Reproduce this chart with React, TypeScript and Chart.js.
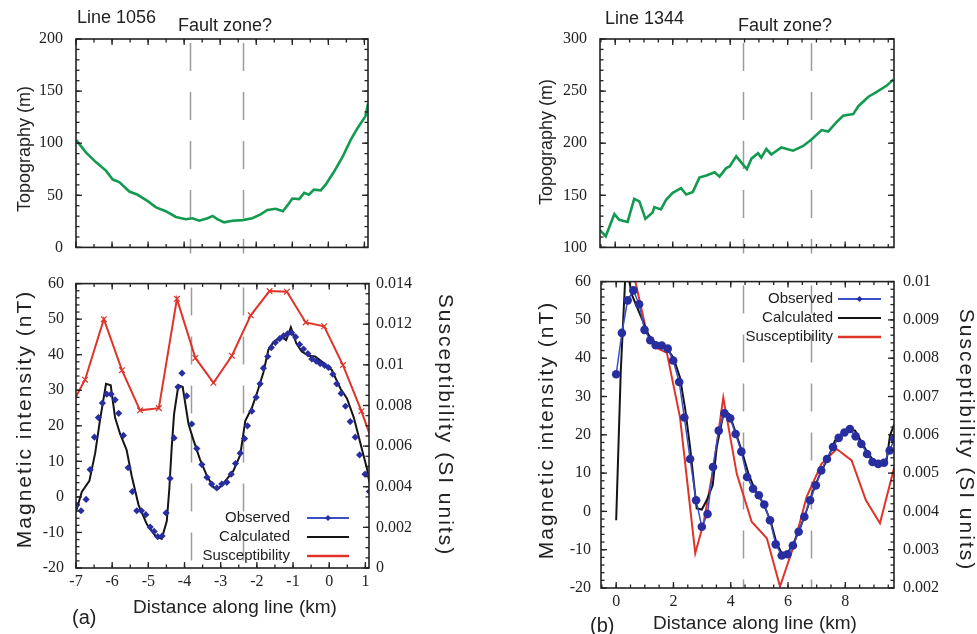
import React, { useEffect, useRef } from "react";
import { Chart, registerables } from "chart.js";

Chart.register(...registerables);

// ---------------- DATA ----------------
// Line 1056 (panel a)
const topoDistA = [-7, -6.72, -6.45, -6.17, -5.98, -5.8, -5.52, -5.29, -5.01, -4.78, -4.51, -4.23, -3.95, -3.77, -3.58, -3.35, -3.21, -3.08, -2.89, -2.66, -2.38, -2.11, -1.88, -1.69, -1.46, -1.26, -1.09, -1.0, -0.81, -0.67, -0.54, -0.4, -0.21, -0.07, 0.16, 0.39, 0.62, 0.8, 1.03, 1.1];
const topoElevA = [103.2, 91, 81.9, 73.7, 65.1, 62.7, 53.6, 50.5, 44.4, 38.4, 34.7, 29.2, 27.1, 28, 25.6, 28, 30.1, 27.1, 24, 25.6, 26.2, 28, 31.7, 35.9, 37.1, 34.7, 42.3, 46.9, 46.3, 52.3, 50.5, 55.4, 54.8, 60.5, 72.8, 86.5, 103.2, 113.9, 126, 138];

const obsDistA = [-6.98, -6.86, -6.72, -6.61, -6.49, -6.38, -6.27, -6.15, -6.03, -5.92, -5.82, -5.69, -5.56, -5.44, -5.32, -5.19, -5.07, -4.95, -4.84, -4.74, -4.62, -4.51, -4.4, -4.29, -4.18, -4.07, -3.94, -3.8, -3.66, -3.52, -3.38, -3.25, -3.11, -2.97, -2.83, -2.71, -2.59, -2.46, -2.34, -2.26, -2.14, -2.02, -1.91, -1.82, -1.7, -1.6, -1.49, -1.37, -1.26, -1.15, -1.04, -0.93, -0.82, -0.71, -0.59, -0.48, -0.36, -0.25, -0.13, -0.02, 0.1, 0.21, 0.33, 0.45, 0.58, 0.72, 0.84, 0.99, 1.11];
const obsMagA = [-2.3, -3.9, -0.7, 7.7, 16.8, 22.3, 26.4, 28.9, 28.9, 27.3, 23.5, 17.3, 8.2, 1.5, -3.9, -3.9, -5, -8.5, -9.7, -11.2, -11, -4.5, 5.2, 16.6, 30.9, 34.8, 28.4, 20.5, 13.6, 9.1, 5.5, 3.6, 2.5, 3.6, 4.1, 6.4, 9.4, 12.3, 16.4, 20, 24.1, 28, 31.8, 36.2, 39.5, 42, 43.4, 44.5, 45.3, 45.9, 46.2, 45, 42.9, 41.6, 40.3, 38.8, 38.2, 37.5, 37, 36.4, 34.5, 31.8, 29.1, 25.5, 21.2, 16.8, 11.8, 6.4, 1.5];

const calcDistA = [-7, -6.84, -6.63, -6.47, -6.34, -6.17, -6.04, -5.92, -5.78, -5.6, -5.46, -5.27, -5.04, -4.81, -4.63, -4.49, -4.42, -4.36, -4.29, -4.17, -4.05, -3.89, -3.75, -3.57, -3.38, -3.2, -3.06, -2.83, -2.65, -2.46, -2.32, -2.14, -2.0, -1.82, -1.68, -1.54, -1.31, -1.19, -1.06, -0.91, -0.76, -0.57, -0.39, -0.16, 0.07, 0.31, 0.49, 0.68, 0.91, 1.05, 1.11];
const calcMagA = [-4.1, 1.4, 4.5, 12.3, 21.4, 31.8, 31.4, 22.3, 17.7, 13.2, 5.9, -2.3, -7.7, -10.9, -11.8, -6.8, 2.3, 13, 23.2, 31.4, 30.9, 20.5, 15.9, 10.5, 5.9, 2.7, 2.3, 5, 7.3, 11.8, 21.4, 25, 29.1, 35, 41.4, 43.6, 45, 44.1, 47.7, 43.2, 40.9, 39.7, 39.5, 37.7, 35.7, 30.5, 27.7, 22.3, 13.2, 7.7, 4.1];

const susDistA = [-7, -6.75, -6.23, -5.73, -5.23, -4.71, -4.21, -3.7, -3.2, -2.69, -2.17, -1.65, -1.17, -0.65, -0.14, 0.38, 0.89, 1.11];
const susValA = [0.00843, 0.00927, 0.01225, 0.00974, 0.00776, 0.00787, 0.01325, 0.01034, 0.00912, 0.01045, 0.01244, 0.01363, 0.0136, 0.01209, 0.0119, 0.00999, 0.00772, 0.00663];

const faultA = [-3.83, -2.37];
const xTicksA = [-7, -6, -5, -4, -3, -2, -1, 0, 1];

// Line 1344 (panel b)
const topoDistB = [-0.56, -0.33, -0.03, 0.14, 0.43, 0.66, 0.84, 1.05, 1.3, 1.36, 1.59, 1.77, 2.0, 2.29, 2.47, 2.7, 2.93, 3.17, 3.46, 3.63, 3.86, 3.98, 4.21, 4.39, 4.58, 4.74, 4.97, 5.08, 5.26, 5.43, 5.78, 6.19, 6.54, 6.83, 7.18, 7.41, 7.7, 7.93, 8.28, 8.46, 8.81, 9.1, 9.45, 9.68];
const topoElevB = [117.4, 110.7, 132, 126.5, 124.4, 146.6, 144.1, 127.4, 133.5, 138.7, 136.5, 145.7, 152.4, 156.9, 150.8, 153.3, 167, 169.1, 172.1, 167.9, 176.1, 177.6, 187.4, 181.3, 175.2, 185.2, 190.4, 186.1, 194.4, 189.2, 195.9, 192.8, 197.4, 203.5, 212.6, 211.1, 220.2, 226.3, 227.9, 235.5, 244.6, 249.2, 255.3, 261.3];

const obsDistB = [0, 0.2, 0.4, 0.6, 0.8, 0.99, 1.19, 1.38, 1.59, 1.8, 1.99, 2.2, 2.38, 2.58, 2.79, 2.99, 3.19, 3.38, 3.58, 3.78, 3.98, 4.17, 4.37, 4.57, 4.78, 4.98, 5.17, 5.37, 5.57, 5.78, 5.98, 6.17, 6.37, 6.57, 6.77, 6.97, 7.16, 7.36, 7.57, 7.77, 7.97, 8.16, 8.36, 8.56, 8.76, 8.95, 9.15, 9.35, 9.55, 9.71];
const obsMagB = [35.8, 46.6, 55.1, 57.7, 54.1, 47.4, 44.7, 43.4, 43.3, 42.5, 39.4, 33.8, 24.5, 13.7, 2.9, -4.0, -0.7, 11.6, 21.1, 25.6, 24.3, 20.2, 15.6, 9, 5.9, 4.2, 1.8, -2.3, -8.6, -11.5, -11.2, -8.9, -5.3, -1.4, 2.9, 6.8, 10.7, 13.7, 16.8, 19.2, 20.6, 21.5, 19.6, 17.6, 15, 12.9, 12.4, 12.7, 15.9, 18.9];

const calcDistB = [0, 0.16, 0.31, 0.37, 0.55, 0.84, 1.13, 1.42, 1.77, 2.0, 2.23, 2.41, 2.58, 2.81, 2.99, 3.16, 3.37, 3.51, 3.77, 3.95, 4.15, 4.38, 4.62, 4.85, 5.14, 5.4, 5.6, 5.81, 5.98, 6.19, 6.42, 6.65, 6.88, 7.12, 7.41, 7.64, 7.87, 8.1, 8.34, 8.57, 8.8, 9.03, 9.27, 9.44, 9.56, 9.71];
const calcMagB = [-2.3, 36.6, 60, 63.5, 56.5, 51.3, 46.1, 43.5, 42.5, 40.1, 34.9, 26.7, 16.8, 0.8, 0.5, 2.9, 6.8, 16.8, 26.3, 25.4, 21.1, 15.9, 9.8, 5.5, 2.1, -2.7, -8.3, -11.4, -10.9, -8.3, -4.4, 0.3, 5.5, 9.8, 14.2, 18.5, 20.2, 21.1, 21.1, 18.1, 15, 12.9, 12.4, 13.3, 19.8, 22.8];

const susDistB = [0.55, 1.07, 1.42, 1.77, 2.23, 2.76, 3.05, 3.4, 3.74, 4.21, 4.73, 5.26, 5.72, 6.19, 6.65, 7.17, 7.7, 8.22, 8.72, 9.21, 9.71];
const susValB = [0.0104, 0.00866, 0.00827, 0.00814, 0.00645, 0.00291, 0.00369, 0.00516, 0.00697, 0.00498, 0.00373, 0.0033, 0.00204, 0.00308, 0.00438, 0.00524, 0.00563, 0.00533, 0.00429, 0.00369, 0.00516];

const faultB = [4.43, 6.8];
const xTicksB = [0, 2, 4, 6, 8];

// ---------------- STYLE ----------------
const GREEN = "rgb(18,155,80)";
const RED = "rgb(222,52,42)";
const BLUE_PT = "rgb(40,46,160)";
const BLUE_LN = "rgb(60,78,200)";
const BLACK = "#151515";
const INK = "#222";
const SANS = '"Liberation Sans", Arial, Helvetica, sans-serif';
const SERIF = '"Liberation Serif", "Times New Roman", serif';

const pts = (xs: number[], ys: number[]) => xs.map((x, i) => ({ x, y: ys[i] }));

function stepValues(min: number, max: number, step: number) {
  const out: number[] = [];
  const s = Math.ceil(min / step - 1e-9);
  const e = Math.floor(max / step + 1e-9);
  for (let k = s; k <= e; k++) out.push(+(k * step).toFixed(6));
  return out;
}

const framePlugin = {
  id: "frame",
  beforeDatasetsDraw(chart: any, _a: any, opts: any) {
    const { ctx, chartArea: ca, scales } = chart;
    if (!opts || !opts.faults) return;
    ctx.save();
    ctx.strokeStyle = "#9c9c9c";
    ctx.lineWidth = 1.5;
    ctx.setLineDash([28, 21]);
    for (const f of opts.faults) {
      const px = Math.round(scales.x.getPixelForValue(f)) + 0.5;
      ctx.beginPath();
      ctx.moveTo(px, ca.top + 4);
      ctx.lineTo(px, ca.bottom + (opts.faultExtend || 0));
      ctx.stroke();
    }
    ctx.restore();
  },
  afterDraw(chart: any, _a: any, opts: any) {
    if (!opts) return;
    const { ctx, chartArea: ca, scales } = chart;
    ctx.save();
    ctx.strokeStyle = INK;
    ctx.lineWidth = 1.6;
    ctx.setLineDash([]);
    ctx.strokeRect(ca.left, ca.top, ca.right - ca.left, ca.bottom - ca.top);
    ctx.lineWidth = 1.3;
    const MAJ = 6, MIN = 3.5;
    // horizontal edges
    const xs = scales.x;
    const xMaj = xs.ticks.map((t: any) => t.value);
    const xMinor = stepValues(xs.min, xs.max, opts.xMinor);
    const drawX = (v: number, len: number) => {
      const p = xs.getPixelForValue(v);
      if (p < ca.left - 0.5 || p > ca.right + 0.5) return;
      ctx.beginPath();
      ctx.moveTo(p, ca.bottom); ctx.lineTo(p, ca.bottom - len);
      ctx.moveTo(p, ca.top); ctx.lineTo(p, ca.top + len);
      ctx.stroke();
    };
    xMinor.forEach((v) => drawX(v, MIN));
    xMaj.forEach((v: number) => drawX(v, MAJ));
    // vertical edges
    const drawY = (scale: any, v: number, len: number, side: "l" | "r") => {
      const p = scale.getPixelForValue(v);
      if (p < ca.top - 0.5 || p > ca.bottom + 0.5) return;
      ctx.beginPath();
      if (side === "l") { ctx.moveTo(ca.left, p); ctx.lineTo(ca.left + len, p); }
      else { ctx.moveTo(ca.right, p); ctx.lineTo(ca.right - len, p); }
      ctx.stroke();
    };
    const yl = scales.y;
    const yr = scales.y2 || scales.y;
    stepValues(yl.min, yl.max, opts.yMinor).forEach((v) => drawY(yl, v, MIN, "l"));
    yl.ticks.forEach((t: any) => drawY(yl, t.value, MAJ, "l"));
    stepValues(yr.min, yr.max, opts.y2Minor || opts.yMinor).forEach((v) => drawY(yr, v, MIN, "r"));
    yr.ticks.forEach((t: any) => drawY(yr, t.value, MAJ, "r"));

    // legend
    if (opts.legend) {
      const L = opts.legend;
      ctx.font = `${L.size}px ${SANS}`;
      ctx.textAlign = "right";
      ctx.textBaseline = "middle";
      chart.data.datasets.forEach((ds: any, i: number) => {
        const y = L.y + i * L.dy;
        ctx.fillStyle = INK;
        ctx.fillText(ds.label, L.x, y);
        const x0 = L.x + L.gap, x1 = x0 + L.len;
        ctx.strokeStyle = ds.legendColor || ds.borderColor;
        ctx.lineWidth = ds.legendWidth || 2;
        ctx.beginPath(); ctx.moveTo(x0, y); ctx.lineTo(x1, y); ctx.stroke();
        if (ds.legendMarker) {
          ctx.fillStyle = ds.pointBackgroundColor || ds.backgroundColor;
          const cx = (x0 + x1) / 2, r = 3;
          ctx.beginPath();
          ctx.moveTo(cx, y - r); ctx.lineTo(cx + r, y); ctx.lineTo(cx, y + r); ctx.lineTo(cx - r, y);
          ctx.closePath(); ctx.fill();
        }
      });
    }

    // titles and annotations
    (opts.texts || []).forEach((t: any) => {
      ctx.save();
      ctx.fillStyle = INK;
      ctx.font = `${t.size}px ${SANS}`;
      (ctx as any).letterSpacing = `${t.spacing || 0}px`;
      ctx.textAlign = t.align || "center";
      ctx.textBaseline = "middle";
      ctx.translate(t.x, t.y);
      if (t.rot) ctx.rotate(t.rot);
      ctx.fillText(t.text, 0, 0);
      ctx.restore();
    });
    ctx.restore();
  },
};

const tickFont = { family: SERIF, size: 16 };
const numFmt = (v: any) => String(+(+v).toFixed(5));
const fixW = (w: number) => (s: any) => { s.width = w; };
const fixH = (h: number) => (s: any) => { s.height = h; };
const setTicks = (vals: number[]) => (s: any) => { s.ticks = vals.map((v) => ({ value: v })); };

function yScale(min: number, max: number, step: number, width: number, pad: number, position: "left" | "right" = "left", extra: any = {}) {
  return {
    type: "linear",
    position,
    min, max,
    grid: { display: false, drawTicks: false },
    border: { display: false },
    ticks: { stepSize: step, font: tickFont, color: INK, padding: pad, callback: numFmt },
    afterFit: fixW(width),
    ...extra,
  };
}

function xScale(min: number, max: number, ticks: number[], show: boolean, height = 0) {
  return {
    type: "linear",
    min, max,
    display: show,
    grid: { display: false, drawTicks: false },
    border: { display: false },
    ticks: { font: tickFont, color: INK, padding: 4, autoSkip: false, maxRotation: 0, callback: numFmt },
    afterBuildTicks: setTicks(ticks),
    ...(show ? { afterFit: fixH(height) } : {}),
  };
}

const baseOptions = (padding: any) => ({
  responsive: false,
  animation: false as const,
  events: [] as any[],
  layout: { padding, autoPadding: false },
  plugins: { legend: { display: false }, tooltip: { enabled: false } },
});

type PanelProps = { left: number; top: number; width: number; height: number; build: () => any };

function Panel({ left, top, width, height, build }: PanelProps) {
  const ref = useRef<HTMLCanvasElement | null>(null);
  useEffect(() => {
    if (!ref.current) return;
    const chart = new Chart(ref.current, build());
    return () => chart.destroy();
  }, []);
  return (
    <canvas
      ref={ref}
      width={width}
      height={height}
      style={{ position: "absolute", left, top, width, height }}
    />
  );
}

// ---------- chart configs ----------
const buildATop = () => ({
  type: "line",
  data: {
    datasets: [
      { label: "Topography", data: pts(topoDistA, topoElevA), borderColor: GREEN, borderWidth: 2.6, pointRadius: 0, tension: 0 },
    ],
  },
  options: {
    ...baseOptions({ top: 39, right: 17, bottom: 11, left: 0 }),
    scales: {
      x: xScale(-7, 1.1, xTicksA, false),
      y: yScale(0, 200, 50, 76, 13),
    },
    plugins: {
      legend: { display: false }, tooltip: { enabled: false },
      frame: {
        faults: faultA, faultExtend: 6, xMinor: 0.5, yMinor: 10,
        texts: [
          { text: "Topography (m)", x: 25, y: 149, size: 18, rot: -Math.PI / 2 },
          { text: "Line 1056", x: 77, y: 18, size: 18, align: "left" },
          { text: "Fault zone?", x: 178, y: 26, size: 18, align: "left" },
        ],
      },
    },
  },
  plugins: [framePlugin],
});

const buildABot = () => ({
  type: "line",
  data: {
    datasets: [
      {
        label: "Observed", data: pts(obsDistA, obsMagA), showLine: false, yAxisID: "y",
        pointStyle: "rectRot", pointRadius: 3.6, borderWidth: 0, borderColor: BLUE_LN,
        backgroundColor: BLUE_PT, pointBackgroundColor: BLUE_PT, order: 0, legendMarker: true, legendWidth: 1.8,
      },
      { label: "Calculated", data: pts(calcDistA, calcMagA), borderColor: BLACK, borderWidth: 2, pointRadius: 0, yAxisID: "y", order: 1 },
      {
        label: "Susceptibility", data: pts(susDistA, susValA), borderColor: RED, borderWidth: 2, yAxisID: "y2",
        pointStyle: "crossRot", pointRadius: susDistA.map((_, i) => (i === 0 || i === susDistA.length - 1 ? 0 : 4)),
        pointBorderWidth: 1.2, pointBorderColor: RED, order: 2, legendWidth: 2.5,
      },
    ],
  },
  options: {
    ...baseOptions({ top: 13, right: 0, bottom: 0, left: 0 }),
    scales: {
      x: xScale(-7, 1.1, xTicksA, true, 66),
      y: yScale(-20, 60, 10, 76, 12),
      y2: yScale(0, 0.014, 0.002, 121, 7, "right"),
    },
    plugins: {
      legend: { display: false }, tooltip: { enabled: false },
      frame: {
        faults: faultA, xMinor: 0.5, yMinor: 2, y2Minor: 0.0005,
        legend: { x: 290, y: 256, dy: 19, gap: 17, len: 42, size: 15 },
        texts: [
          { text: "Magnetic intensity (nT)", x: 25, y: 157, size: 21, spacing: 2, rot: -Math.PI / 2 },
          { text: "Susceptibility (SI units)", x: 445, y: 163, size: 21, spacing: 2, rot: Math.PI / 2 },
          { text: "Distance along line (km)", x: 235, y: 346, size: 19 },
          { text: "(a)", x: 72, y: 356, size: 20, align: "left" },
        ],
      },
    },
  },
  plugins: [framePlugin],
});

const buildBTop = () => ({
  type: "line",
  data: {
    datasets: [
      { label: "Topography", data: pts(topoDistB, topoElevB), borderColor: GREEN, borderWidth: 2.6, pointRadius: 0, tension: 0 },
    ],
  },
  options: {
    ...baseOptions({ top: 39, right: 83, bottom: 11, left: 0 }),
    scales: {
      x: xScale(-0.53, 9.7, xTicksB, false),
      y: yScale(100, 300, 50, 110, 13),
    },
    plugins: {
      legend: { display: false }, tooltip: { enabled: false },
      frame: {
        faults: faultB, faultExtend: 6, xMinor: 0.5, yMinor: 10,
        texts: [
          { text: "Topography (m)", x: 57, y: 142, size: 18, rot: -Math.PI / 2 },
          { text: "Line 1344", x: 115, y: 19, size: 18, align: "left" },
          { text: "Fault zone?", x: 248, y: 26, size: 18, align: "left" },
        ],
      },
    },
  },
  plugins: [framePlugin],
});

const buildBBot = () => ({
  type: "line",
  data: {
    datasets: [
      {
        label: "Observed", data: pts(obsDistB, obsMagB), yAxisID: "y", borderColor: BLUE_LN, borderWidth: 1.5,
        pointStyle: "circle", pointRadius: 4.3, pointBorderWidth: 0, backgroundColor: BLUE_PT,
        pointBackgroundColor: BLUE_PT, order: 0, legendMarker: true, legendWidth: 1.8,
      },
      { label: "Calculated", data: pts(calcDistB, calcMagB), borderColor: BLACK, borderWidth: 2, pointRadius: 0, yAxisID: "y", order: 1 },
      { label: "Susceptibility", data: pts(susDistB, susValB), borderColor: RED, borderWidth: 2, pointRadius: 0, yAxisID: "y2", order: 2, legendWidth: 2.5 },
    ],
  },
  options: {
    ...baseOptions({ top: 18, right: 0, bottom: 0, left: 0 }),
    scales: {
      x: xScale(-0.53, 9.7, xTicksB, true, 46),
      y: yScale(-20, 60, 10, 111, 10),
      y2: yScale(0.002, 0.01, 0.001, 83, 9, "right"),
    },
    plugins: {
      legend: { display: false }, tooltip: { enabled: false },
      frame: {
        faults: faultB, xMinor: 0.5, yMinor: 2, y2Minor: 0.0002,
        legend: { x: 343, y: 37, dy: 19, gap: 5, len: 43, size: 15 },
        texts: [
          { text: "Magnetic intensity (nT)", x: 57, y: 168, size: 21, spacing: 2, rot: -Math.PI / 2 },
          { text: "Susceptibility (SI units)", x: 476, y: 178, size: 21, spacing: 2, rot: Math.PI / 2 },
          { text: "Distance along line (km)", x: 265, y: 362, size: 19 },
          { text: "(b)", x: 100, y: 364, size: 20, align: "left" },
        ],
      },
    },
  },
  plugins: [framePlugin],
});

export default function App() {
  return (
    <div style={{ position: "absolute", left: 0, top: 0, width: 977, height: 634, background: "#fff", overflow: "hidden" }}>
      <Panel left={0} top={262} width={490} height={372} build={buildABot} />
      <Panel left={490} top={262} width={487} height={372} build={buildBBot} />
      <Panel left={0} top={0} width={385} height={270} build={buildATop} />
      <Panel left={490} top={0} width={487} height={270} build={buildBTop} />
    </div>
  );
}
